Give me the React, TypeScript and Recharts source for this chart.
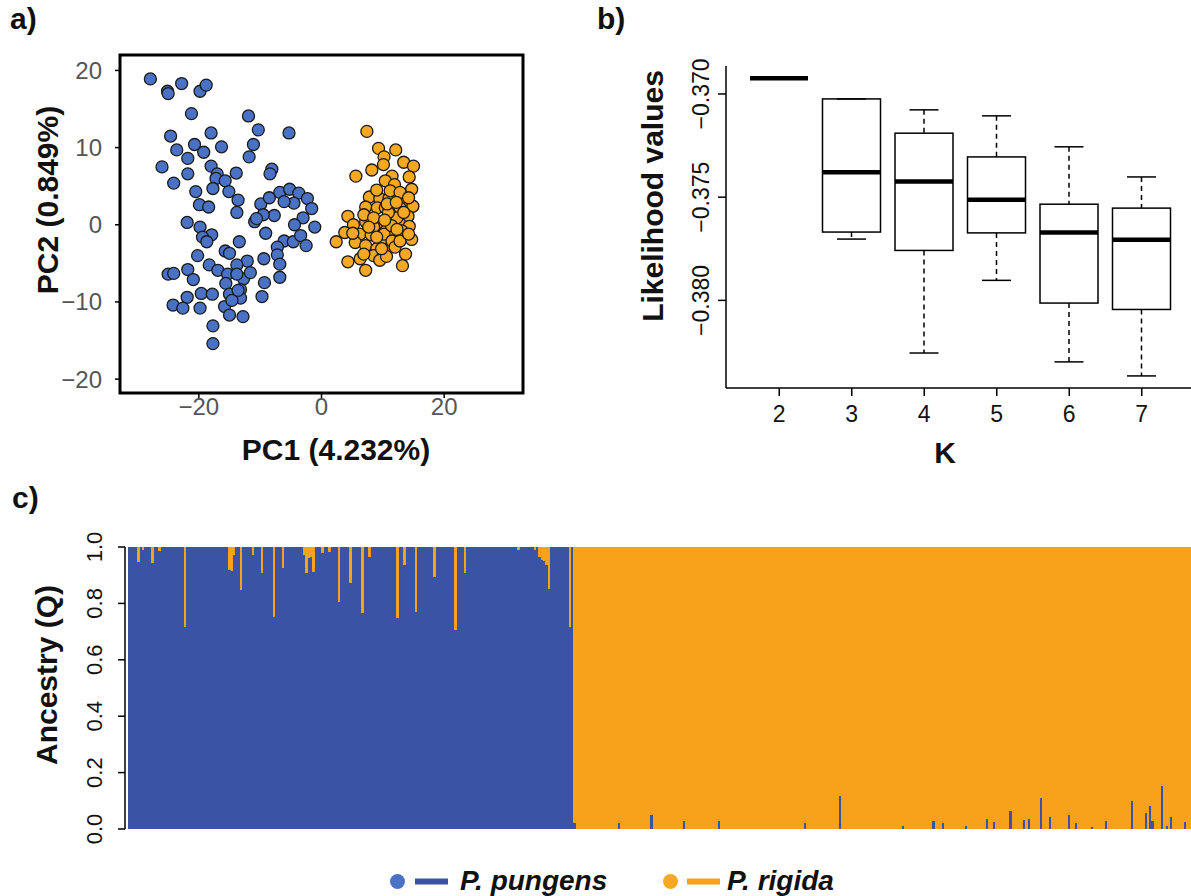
import React from "react"
import {
  ScatterChart, Scatter, XAxis, YAxis, ReferenceArea, Label,
  ComposedChart, Bar, BarChart,
} from "recharts"

// a) PCA scores
const pungensPc1 = [-27.9, -25.1, -25.0, -22.8, -19.8, -18.8, -21.2, -11.9, -10.3, -5.3, -24.6, -18.0, -20.7, -16.3, -11.1, -23.6, -19.2, -21.8, -11.8, -26.0, -21.8, -18.0, -17.0, -13.9, -8.1, -8.4, -24.1, -17.2, -15.7, -17.7, -20.5, -15.1, -13.6, -19.9, -18.4, -13.8, -9.9, -8.5, -6.8, -5.2, -3.7, -2.3, -1.6, -3.0, -4.5, -6.1, -7.7, -9.5, -10.9, -10.6, -4.4, -1.1, -21.9, -19.8, -17.9, -19.4, -18.7, -13.4, -9.1, -6.1, -4.6, -3.4, -2.5, -7.2, -20.2, -15.7, -15.0, -12.1, -9.4, -7.2, -6.8, -18.3, -16.9, -21.8, -25.0, -24.1, -20.9, -13.8, -12.7, -11.6, -15.3, -13.8, -15.6, -13.2, -6.8, -9.3, -19.6, -17.8, -21.9, -15.0, -13.2, -9.7, -24.2, -22.6, -19.8, -15.8, -15.0, -12.8, -17.7, -17.7, -14.6, -13.6]
const pungensPc2 = [18.9, 17.3, 17.0, 18.3, 17.3, 18.1, 14.4, 14.1, 12.3, 11.9, 11.5, 11.9, 10.4, 10.1, 10.4, 9.7, 9.4, 8.6, 8.8, 7.5, 6.6, 7.6, 6.6, 6.7, 7.2, 6.6, 5.4, 6.0, 5.7, 4.7, 4.3, 4.3, 3.2, 2.6, 2.3, 1.6, 2.7, 3.5, 4.2, 4.6, 4.1, 3.4, 2.1, 0.9, 2.8, 3.0, 1.2, 1.3, 0.4, 0.8, 0.0, -0.3, 0.3, -0.3, -1.3, -1.6, -2.2, -2.2, -1.1, -2.1, -2.2, -1.4, -2.7, -2.9, -4.0, -3.4, -3.7, -4.7, -4.4, -3.9, -5.1, -5.2, -5.9, -5.8, -6.4, -6.3, -7.1, -5.2, -7.0, -6.2, -6.4, -6.4, -7.6, -8.4, -6.8, -7.5, -8.9, -9.0, -9.4, -9.0, -9.5, -9.3, -10.4, -10.8, -10.8, -10.6, -11.7, -11.9, -13.1, -15.4, -9.8, -8.5]
const rigidaPc1 = [7.4, 9.3, 12.1, 10.2, 13.4, 15.0, 10.1, 8.2, 5.6, 11.5, 14.3, 10.4, 11.9, 14.7, 7.8, 9.5, 11.0, 12.5, 13.7, 14.9, 7.2, 9.1, 11.9, 4.3, 14.1, 7.2, 9.7, 11.5, 12.8, 5.2, 3.8, 6.3, 8.1, 10.6, 14.3, 2.4, 5.5, 10.0, 13.1, 14.7, 7.2, 9.0, 11.2, 13.7, 4.3, 6.3, 8.5, 9.5, 7.2, 13.2, 10.6, 12.0, 8.5, 6.9, 10.4, 12.8, 12.3, 10.2, 11.4, 13.1, 8.5, 10.9, 12.3, 9.0, 11.5, 7.7, 9.8, 12.0, 12.8, 10.3, 13.4, 14.2, 6.9, 5.1, 11.2, 12.8, 9.0, 10.7, 12.2, 14.2]
const rigidaPc2 = [12.1, 9.9, 9.7, 8.8, 8.1, 7.6, 7.8, 7.1, 6.3, 6.3, 6.2, 5.7, 5.2, 4.6, 3.6, 3.4, 3.4, 3.8, 2.9, 2.4, 2.3, 2.2, 1.9, 1.1, 1.1, 0.4, 0.2, 0.5, 0.1, 0.0, -1.0, -1.2, -1.3, -0.7, -0.2, -2.2, -2.3, -2.1, -1.6, -1.9, -2.7, -3.1, -2.9, -3.8, -4.8, -4.4, -4.0, -4.6, -5.9, -5.3, -4.1, -1.2, -0.3, 1.3, 2.2, 2.2, 0.9, -1.2, -0.1, -0.8, 0.9, 1.6, -0.6, -1.6, -2.1, -0.3, -3.1, -2.9, -2.1, 0.6, 1.6, -1.2, -3.8, -1.1, 4.4, 4.2, 4.5, 2.7, 2.9, 3.5]

// b) likelihood per K (box plot summaries)
const kLabels = ["2", "3", "4", "5", "6", "7"]
const lkMin = [-0.36924, -0.37703, -0.38255, -0.37903, -0.38298, -0.38366]
const lkQ1 = [-0.36924, -0.37669, -0.37758, -0.37673, -0.38013, -0.38044]
const lkMedian = [-0.36924, -0.37379, -0.37424, -0.37513, -0.37671, -0.37706]
const lkQ3 = [-0.36924, -0.37024, -0.3719, -0.37305, -0.37534, -0.37553]
const lkMax = [-0.36924, -0.37024, -0.37077, -0.37106, -0.37256, -0.37402]

// c) ancestry: pure individuals are 1.0, only the admixed ones are listed
const pungensCount = 191
const rigidaCount = 265
const pungensMixIdx = [4, 6, 10, 13, 24, 43, 44, 45, 48, 53, 57, 62, 66, 75, 76, 77, 78, 79, 83, 86, 90, 95, 100, 103, 115, 118, 123, 131, 140, 144, 167, 174, 176, 177, 178, 179, 180, 189]
const pungensMixQ = [0.052, 0.012, 0.055, 0.015, 0.283, 0.082, 0.085, 0.03, 0.152, 0.028, 0.093, 0.247, 0.076, 0.03, 0.093, 0.04, 0.035, 0.09, 0.02, 0.016, 0.194, 0.129, 0.233, 0.034, 0.253, 0.064, 0.229, 0.105, 0.294, 0.091, 0.012, 0.01, 0.035, 0.045, 0.05, 0.065, 0.15, 0.285]
const rigidaMixIdx = [0, 19, 33, 47, 62, 99, 114, 141, 154, 158, 168, 177, 180, 187, 193, 195, 200, 204, 212, 215, 222, 228, 239, 245, 247, 248, 252, 254, 256, 262]
const rigidaMixQ = [0.022, 0.022, 0.05, 0.03, 0.03, 0.022, 0.118, 0.01, 0.03, 0.02, 0.01, 0.035, 0.026, 0.064, 0.032, 0.035, 0.109, 0.043, 0.051, 0.022, 0.006, 0.03, 0.099, 0.055, 0.083, 0.03, 0.152, 0.01, 0.043, 0.026]

const BLUE_PT = "#4a72c4"
const ORANGE_PT = "#f7a823"
const BLUE = "#3a53a4"
const ORANGE = "#f8a21c"
const FONT = "'Liberation Sans', Arial, Helvetica, sans-serif"

const pungensPts = pungensPc1.map((x, i) => ({ x, y: pungensPc2[i] }))
const rigidaPts = rigidaPc1.map((x, i) => ({ x, y: rigidaPc2[i] }))

const boxData = kLabels.map((k, i) => ({
  k, min: lkMin[i], q1: lkQ1[i], median: lkMedian[i], q3: lkQ3[i], max: lkMax[i],
}))

const ancestry = [
  ...Array.from({ length: pungensCount }, (_, i) => {
    const j = pungensMixIdx.indexOf(i)
    const r = j >= 0 ? pungensMixQ[j] : 0
    return { id: "pu" + i, pungens: 1 - r, rigida: r }
  }),
  ...Array.from({ length: rigidaCount }, (_, i) => {
    const j = rigidaMixIdx.indexOf(i)
    const p = j >= 0 ? rigidaMixQ[j] : 0
    return { id: "ri" + i, pungens: p, rigida: 1 - p }
  }),
]

const minus = (s: string) => s.replace("-", "\u2212")

const dot = (fill: string) => (p: any) => (
  <circle cx={p.cx} cy={p.cy} r={6} fill={fill} stroke="#1a1a1a" strokeWidth={1.3} />
)

// crisp stacked column, no anti-aliased seams between neighbours
const column = (fill: string) => (p: any) => {
  if (!p.height) return <g />
  let y = p.y
  let h = p.height
  if (h < 0) { y += h; h = -h }
  return <rect x={p.x} y={y} width={p.width + 0.5} height={h} fill={fill} shapeRendering="crispEdges" />
}

// draws the whole box from the min..max range bar
const BoxShape = (p: any) => {
  const d = p.payload
  let top = p.y
  let h = p.height
  if (h < 0) { top += h; h = -h }
  const span = d.max - d.min
  const py = (v: number) => (span === 0 ? top : top + ((d.max - v) / span) * h)
  const cx = p.x + p.width / 2
  const half = p.width / 2
  const cap = p.width / 4
  return (
    <g>
      <line x1={cx} x2={cx} y1={py(d.max)} y2={py(d.q3)} stroke="#000" strokeWidth={1.5} strokeDasharray="5 4" />
      <line x1={cx} x2={cx} y1={py(d.q1)} y2={py(d.min)} stroke="#000" strokeWidth={1.5} strokeDasharray="5 4" />
      <line x1={cx - cap} x2={cx + cap} y1={py(d.max)} y2={py(d.max)} stroke="#000" strokeWidth={1.5} />
      <line x1={cx - cap} x2={cx + cap} y1={py(d.min)} y2={py(d.min)} stroke="#000" strokeWidth={1.5} />
      <rect x={cx - half} y={py(d.q3)} width={p.width} height={py(d.q1) - py(d.q3)} fill="none" stroke="#000" strokeWidth={1.5} />
      <line x1={cx - half} x2={cx + half} y1={py(d.median)} y2={py(d.median)} stroke="#000" strokeWidth={4.5} />
    </g>
  )
}

const rotTick = (size: number, fmt: (v: number) => string) => (p: any) => (
  <text x={p.x} y={p.y} transform={`rotate(-90 ${p.x} ${p.y})`} textAnchor="middle" fontSize={size} fill="#111" fontFamily={FONT}>
    {fmt(p.payload.value)}
  </text>
)

const title = (x: number, y: number, text: string, rotate = false) => () => (
  <text x={x} y={y} textAnchor="middle" fontSize={30} fontWeight="bold" fill="#111" fontFamily={FONT}
    transform={rotate ? `rotate(-90 ${x} ${y})` : undefined}>
    {text}
  </text>
)

const App = () => {
  return (
    <div style={{ position: "absolute", left: 0, top: 0, width: 1191, height: 896, overflow: "hidden", background: "#fff", fontFamily: FONT }}>
      {/* a) PCA */}
      <div style={{ position: "absolute", left: 0, top: 0 }}>
        <ScatterChart width={540} height={470} margin={{ top: 55, right: 17, bottom: 0, left: 0 }}>
          <XAxis type="number" dataKey="x" domain={[-32.85, 32.85]} ticks={[-20, 0, 20]} allowDataOverflow
            axisLine={false} tickSize={5} tickMargin={0} height={77}
            tickLine={{ stroke: "#000", strokeWidth: 1.5 }}
            tick={{ fill: "#555", fontSize: 24 }} tickFormatter={(v: number) => minus(String(v))}>
            <Label content={title(336, 460, "PC1 (4.232%)")} />
          </XAxis>
          <YAxis type="number" dataKey="y" domain={[-21.8, 22.0]} ticks={[-20, -10, 0, 10, 20]} allowDataOverflow
            axisLine={false} tickSize={5} tickMargin={13} width={120}
            tickLine={{ stroke: "#000", strokeWidth: 1.5 }}
            tick={{ fill: "#555", fontSize: 24 }} tickFormatter={(v: number) => minus(String(v))}>
            <Label content={title(58, 200, "PC2 (0.849%)", true)} />
          </YAxis>
          <ReferenceArea x1={-32.85} x2={32.85} y1={-21.8} y2={22.0} fill="none" stroke="#000" strokeWidth={3} />
          <Scatter data={pungensPts} shape={dot(BLUE_PT)} isAnimationActive={false} />
          <Scatter data={rigidaPts} shape={dot(ORANGE_PT)} isAnimationActive={false} />
        </ScatterChart>
      </div>

      {/* b) likelihood by K */}
      <div style={{ position: "absolute", left: 600, top: 0 }}>
        <ComposedChart width={595} height={480} data={boxData} margin={{ top: 66, right: 0, bottom: 0, left: 0 }}>
          <XAxis dataKey="k" type="category" padding={{ left: 17, right: 17 }} height={92}
            tickSize={8} tickMargin={10} axisLine={{ stroke: "#000", strokeWidth: 1.5 }}
            tickLine={{ stroke: "#000", strokeWidth: 1.5 }} tick={{ fill: "#111", fontSize: 23 }}>
            <Label content={title(345, 463, "K")} />
          </XAxis>
          <XAxis xAxisId="top" dataKey="k" type="category" orientation="top" height={0}
            tick={false} tickLine={false} axisLine={{ stroke: "#000", strokeWidth: 1.5 }} />
          <YAxis type="number" domain={[-0.384245, -0.368645]} ticks={[-0.38, -0.375, -0.37]} allowDataOverflow
            width={126} tickSize={8} tickMargin={9} axisLine={{ stroke: "#000", strokeWidth: 1.5 }}
            tickLine={{ stroke: "#000", strokeWidth: 1.5 }}
            tick={rotTick(23, (v) => minus(v.toFixed(3)))}>
            <Label content={title(63, 196, "Likelihood values", true)} />
          </YAxis>
          <Bar dataKey={(d: any) => [d.min, d.max]} barSize={58} shape={BoxShape} isAnimationActive={false} />
        </ComposedChart>
      </div>

      {/* c) ancestry barplot */}
      <div style={{ position: "absolute", left: 0, top: 480 }}>
        <BarChart width={1191} height={416} data={ancestry} barCategoryGap={0} barGap={0}
          margin={{ top: 67, right: 0, bottom: 67, left: 0 }}>
          <XAxis dataKey="id" type="category" hide padding={{ left: 3, right: 0 }} />
          <YAxis type="number" domain={[0, 1]} ticks={[0, 0.2, 0.4, 0.6, 0.8, 1]} width={125}
            tickSize={7} tickMargin={16} axisLine={{ stroke: "#000", strokeWidth: 1.5 }}
            tickLine={{ stroke: "#000", strokeWidth: 1.5 }}
            tick={rotTick(22, (v) => v.toFixed(1))}>
            <Label content={title(57, 195, "Ancestry (Q)", true)} />
          </YAxis>
          <Bar dataKey="pungens" stackId="q" fill={BLUE} shape={column(BLUE)} isAnimationActive={false} />
          <Bar dataKey="rigida" stackId="q" fill={ORANGE} shape={column(ORANGE)} isAnimationActive={false} />
        </BarChart>
      </div>

      {/* panel letters and legend */}
      <svg width={1191} height={896} style={{ position: "absolute", left: 0, top: 0, pointerEvents: "none" }}>
        <g fontFamily={FONT} fontWeight="bold" fontSize={30} fill="#111">
          <text x={10} y={29}>a)</text>
          <text x={597} y={29}>b)</text>
          <text x={12} y={508}>c)</text>
        </g>
        <circle cx={397.5} cy={881.5} r={7.5} fill={BLUE_PT} />
        <line x1={415} x2={448} y1={881.5} y2={881.5} stroke={BLUE} strokeWidth={6} />
        <text x={460} y={890} fontFamily={FONT} fontWeight="bold" fontStyle="italic" fontSize={28} fill="#111">P. pungens</text>
        <circle cx={670.5} cy={881.5} r={7.5} fill={ORANGE_PT} />
        <line x1={687} x2={720} y1={881.5} y2={881.5} stroke={ORANGE} strokeWidth={6} />
        <text x={727} y={890} fontFamily={FONT} fontWeight="bold" fontStyle="italic" fontSize={28} fill="#111">P. rigida</text>
      </svg>
    </div>
  )
}

export default App
